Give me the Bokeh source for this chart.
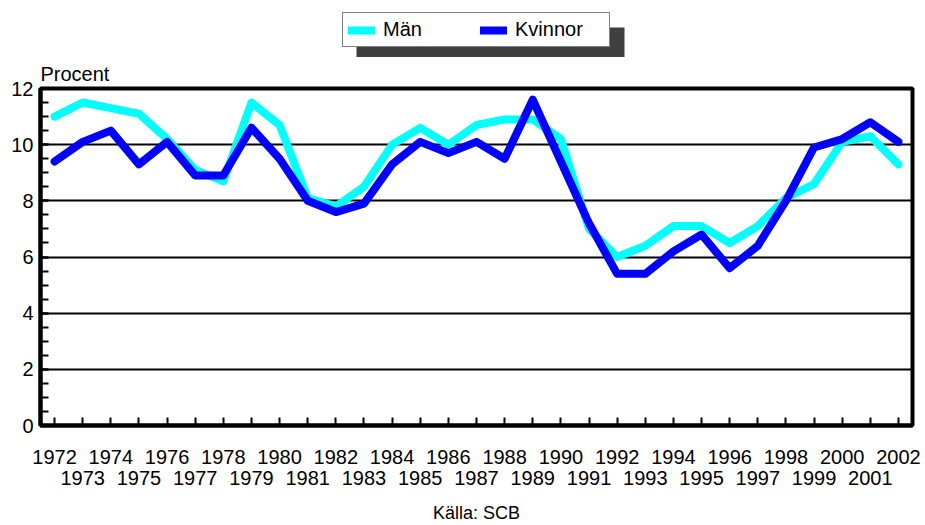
from bokeh.plotting import figure
from bokeh.layouts import column
from bokeh.models import (Range1d, LinearAxis, FixedTicker, SingleIntervalTicker,
                          Legend, LegendItem, BoxAnnotation, ColumnDataSource)
from bokeh.embed import file_html
from bokeh.resources import INLINE

years = list(range(1972, 2003))
man = [11.0, 11.5, 11.3, 11.1, 10.2, 9.1, 8.7, 11.5, 10.7, 8.1, 7.8, 8.5, 10.0, 10.6, 10.0,
       10.7, 10.9, 10.9, 10.2, 7.0, 6.0, 6.4, 7.1, 7.1, 6.5, 7.1, 8.1, 8.6, 10.1, 10.3, 9.3]
kvinnor = [9.4, 10.1, 10.5, 9.3, 10.1, 8.9, 8.9, 10.6, 9.5, 8.0, 7.6, 7.9, 9.3, 10.1, 9.7,
           10.1, 9.5, 11.6, 9.4, 7.2, 5.4, 5.4, 6.2, 6.8, 5.6, 6.4, 8.0, 9.9, 10.2, 10.8, 10.1]
series_names = ["Män", "Kvinnor"]
series_colors = ["#00FFFF", "#0000FF"]
y_label = "Procent"
source_text = "Källa: SCB"

FONT = "Liberation Sans"
FS = "20px"
TXT = "black"
W = 925
H_HEAD = 57
H_MAIN = 525 - H_HEAD
BL, BR = 40, 13   # frame borders left/right

# ---------------- header: legend ----------------
head = figure(width=W, height=H_HEAD, x_range=Range1d(BL, W - BR), y_range=Range1d(H_HEAD, 0),
              output_backend="svg", toolbar_location=None,
              x_axis_location=None, y_axis_location=None,
              min_border_left=BL, min_border_right=BR, min_border_top=0, min_border_bottom=0)
head.grid.visible = False
head.outline_line_color = None
head.background_fill_color = "white"
head.border_fill_color = "white"

nan = float("nan")
legend_src = ColumnDataSource(dict(x=[nan], y=[nan]))
hr = [head.line("x", "y", source=legend_src, line_color=c, line_width=8, line_cap="round")
      for c in series_colors]

shadow = BoxAnnotation(left=356, right=624, top=27, bottom=H_HEAD,
                       fill_color="#404040", fill_alpha=1.0, line_color=None)
head.add_layout(shadow)

legend = Legend(items=[LegendItem(label=series_names[i], renderers=[hr[i]]) for i in range(2)],
                location=(342 - BL, H_HEAD - 47), orientation="horizontal")
legend.border_line_color = "black"
legend.border_line_width = 1
legend.background_fill_color = "white"
legend.background_fill_alpha = 1.0
legend.label_text_font = FONT
legend.label_text_font_size = FS
legend.label_text_color = TXT
legend.padding = 5
legend.margin = 0
legend.glyph_width = 27
legend.glyph_height = 20
legend.label_standoff = 8
legend.label_width = 89
legend.spacing = 8
head.add_layout(legend)

# ---------------- main chart ----------------
src = ColumnDataSource(dict(year=years, man=man, kvinnor=kvinnor))

p = figure(width=W, height=H_MAIN, x_range=Range1d(1971.5, 2002.5), y_range=Range1d(0, 12),
           output_backend="svg", toolbar_location=None, title=y_label,
           min_border_left=BL, min_border_right=BR, min_border_top=88 - H_HEAD,
           min_border_bottom=95)
p.background_fill_color = "white"
p.border_fill_color = "white"
p.outline_line_color = "black"
p.outline_line_width = 4

p.title.text_font = FONT
p.title.text_font_size = FS
p.title.text_font_style = "normal"
p.title.text_color = TXT
p.title.align = "left"
p.title.standoff = 7

p.xgrid.grid_line_color = None
p.ygrid.grid_line_color = "black"
p.ygrid.grid_line_width = 2

ya = p.yaxis[0]
ya.ticker = SingleIntervalTicker(interval=2, num_minor_ticks=4)
ya.axis_line_width = 4
ya.axis_line_color = "black"
ya.major_tick_line_color = "black"
ya.minor_tick_line_color = "black"
ya.major_tick_in = 8
ya.major_tick_out = 0
ya.minor_tick_in = 8
ya.minor_tick_out = 0
ya.major_tick_line_width = 2
ya.minor_tick_line_width = 2
ya.major_label_text_font = FONT
ya.major_label_text_font_size = FS
ya.major_label_text_color = TXT
ya.major_label_standoff = 7

xa = p.xaxis[0]
xa.ticker = FixedTicker(ticks=years, minor_ticks=[])
xa.axis_line_width = 4
xa.axis_line_color = "black"
xa.major_tick_line_color = "black"
xa.major_tick_in = 8
xa.major_tick_out = 0
xa.major_tick_line_width = 2
xa.major_label_text_font = FONT
xa.major_label_text_font_size = FS
xa.major_label_text_color = TXT
xa.major_label_standoff = 24
xa.major_label_overrides = {y: (str(y) if y % 2 == 0 else "") for y in years}

xa2 = LinearAxis(ticker=FixedTicker(ticks=[y for y in years if y % 2 == 1], minor_ticks=[]))
xa2.axis_line_color = None
xa2.major_tick_line_color = None
xa2.major_tick_in = 0
xa2.major_tick_out = 0
xa2.major_label_text_font = FONT
xa2.major_label_text_font_size = FS
xa2.major_label_text_color = TXT
xa2.major_label_standoff = 4
xa2.axis_label = source_text
xa2.axis_label_text_font = FONT
xa2.axis_label_text_font_size = "18px"
xa2.axis_label_text_font_style = "normal"
xa2.axis_label_text_color = TXT
xa2.axis_label_standoff = 15
p.add_layout(xa2, "below")

for col, c in zip(["man", "kvinnor"], series_colors):
    p.line("year", col, source=src, line_color=c, line_width=8,
           line_join="round", line_cap="round")

layout = column(head, p, spacing=0)
open("out.html", "w").write(file_html(layout, INLINE))
